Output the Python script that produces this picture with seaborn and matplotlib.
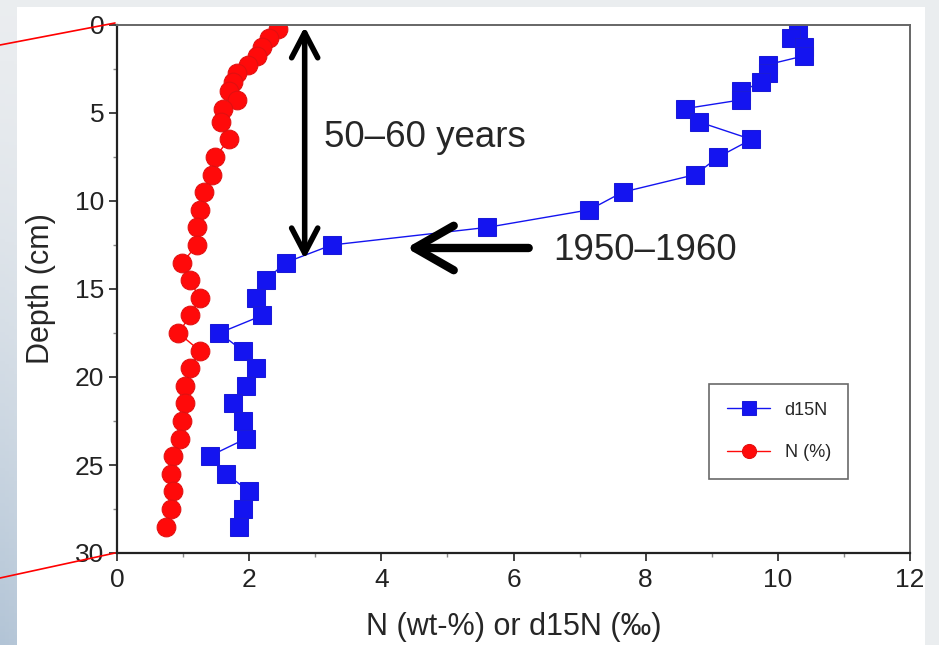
import numpy as np
import pandas as pd
import matplotlib
matplotlib.use('Agg')
import matplotlib.pyplot as plt
from matplotlib.lines import Line2D
from matplotlib.patches import Rectangle
import seaborn as sns

# depth of the samples (cm)
depth = [0.25, 0.75, 1.25, 1.75, 2.25, 2.75, 3.25, 3.75, 4.25, 4.75,
         5.5, 6.5, 7.5, 8.5, 9.5, 10.5, 11.5, 12.5, 13.5, 14.5,
         15.5, 16.5, 17.5, 18.5, 19.5, 20.5, 21.5, 22.5, 23.5, 24.5,
         25.5, 26.5, 27.5, 28.5]

d15n = [10.3, 10.2, 10.4, 10.4, 9.85, 9.85, 9.75, 9.45, 9.45, 8.6,
        8.8, 9.6, 9.1, 8.75, 7.65, 7.15, 5.6, 3.25, 2.55, 2.25,
        2.1, 2.2, 1.55, 1.9, 2.1, 1.95, 1.75, 1.9, 1.95, 1.4,
        1.65, 2.0, 1.9, 1.85]

n_pct = [2.43, 2.3, 2.2, 2.12, 1.98, 1.82, 1.75, 1.7, 1.82, 1.61,
         1.57, 1.69, 1.49, 1.44, 1.31, 1.26, 1.21, 1.21, 0.99, 1.1,
         1.25, 1.11, 0.93, 1.25, 1.11, 1.03, 1.03, 0.99, 0.96, 0.84,
         0.81, 0.84, 0.81, 0.74]

df = pd.DataFrame({'depth': depth, 'd15N': d15n, 'N (%)': n_pct})

sns.set_style('ticks')
plt.rcParams['font.family'] = ['Liberation Sans', 'DejaVu Sans']

fig = plt.figure(figsize=(9.39, 6.45), dpi=100)
fig.patch.set_facecolor('#e6e9eb')

# slide background
bg = fig.add_axes([0, 0, 1, 1], zorder=-10)
yy = np.linspace(0, 1, 200)[:, None]
xx = np.linspace(0, 1, 200)[None, :]
top = np.array([0.92, 0.93, 0.94])
bot = np.array([0.70, 0.77, 0.84])
mix = (yy ** 1.5) * np.clip(1 - xx * 3, 0, 1)
img = top[None, None, :] * (1 - mix[..., None]) + bot[None, None, :] * mix[..., None]
bg.imshow(img, aspect='auto', extent=[0, 1, 0, 1])
bg.set_axis_off()
bg.add_patch(Rectangle((17 / 939, 0), (925 - 17) / 939, 1 - 7 / 645,
                       facecolor='white', edgecolor='none'))

ax = fig.add_axes([117 / 939, 1 - 553 / 645, (910 - 117) / 939, (553 - 25) / 645])
ax.set_facecolor('white')

sns.lineplot(data=df, x='d15N', y='depth', ax=ax, estimator=None, sort=False,
             color='#1414f0', marker='s', markersize=13, markeredgecolor='#1a1ad8',
             linewidth=1, label='d15N')
sns.lineplot(data=df, x='N (%)', y='depth', ax=ax, estimator=None, sort=False,
             color='#ff0a0a', marker='o', markersize=13.5, markeredgecolor='#e01010',
             linewidth=1, label='N (%)')

ax.set_xlim(0, 12)
ax.set_ylim(30, 0)
ax.set_xticks(np.arange(0, 13, 2))
ax.set_xticks(np.arange(0, 13, 1), minor=True)
ax.set_yticks(np.arange(0, 31, 5))
ax.set_yticks(np.arange(0, 31, 2.5), minor=True)
ax.tick_params(axis='both', which='major', direction='out', length=6, width=1.2,
               labelsize=19, colors='#222222')
ax.tick_params(axis='x', which='major', pad=5)
ax.tick_params(axis='y', which='major', pad=3)
ax.tick_params(axis='both', which='minor', direction='out', length=3, width=1,
               colors='#888888')
ax.set_xlabel('N (wt-%) or d15N (‰)', fontsize=22, labelpad=14)
ax.set_ylabel('Depth (cm)', fontsize=22, labelpad=14)
for side in ['left', 'bottom']:
    ax.spines[side].set_color('#222222')
    ax.spines[side].set_linewidth(1.6)
for side in ['top', 'right']:
    ax.spines[side].set_color('#666666')
    ax.spines[side].set_linewidth(1.4)

leg = ax.legend(loc='lower left', bbox_to_anchor=(0.735, 0.123, 0.198, 0.176),
                mode='expand', fontsize=13, frameon=True, fancybox=False,
                markerscale=0.75, handlelength=2.4, borderpad=1.0, labelspacing=1.4)
leg.get_frame().set_edgecolor('#444444')
leg.get_frame().set_linewidth(1.2)

# annotations
ax.annotate('', xy=(2.84, 0.1), xytext=(2.84, 13.3),
            arrowprops=dict(arrowstyle='<->,head_length=0.9,head_width=0.47',
                            lw=4, color='black', mutation_scale=20,
                            shrinkA=0, shrinkB=0, capstyle='round', joinstyle='round'))
ax.annotate('', xy=(4.38, 12.67), xytext=(6.23, 12.67),
            arrowprops=dict(arrowstyle='->,head_length=1.4,head_width=0.8',
                            lw=6, color='black', mutation_scale=20,
                            shrinkA=0, shrinkB=0, capstyle='round', joinstyle='round'))
ax.text(3.13, 6.4, '50–60 years', fontsize=26.5, ha='left', va='center')
ax.text(6.6, 12.8, '1950–1960', fontsize=26.5, ha='left', va='center')

# red zoom lines from the slide
fig.add_artist(Line2D([0, 115 / 939], [1 - 45 / 645, 1 - 23 / 645],
                      color='red', lw=1.2, transform=fig.transFigure))
fig.add_artist(Line2D([0, 115 / 939], [1 - 578 / 645, 1 - 553 / 645],
                      color='red', lw=1.2, transform=fig.transFigure))

fig.savefig('out.png', dpi=100, facecolor=fig.get_facecolor())
